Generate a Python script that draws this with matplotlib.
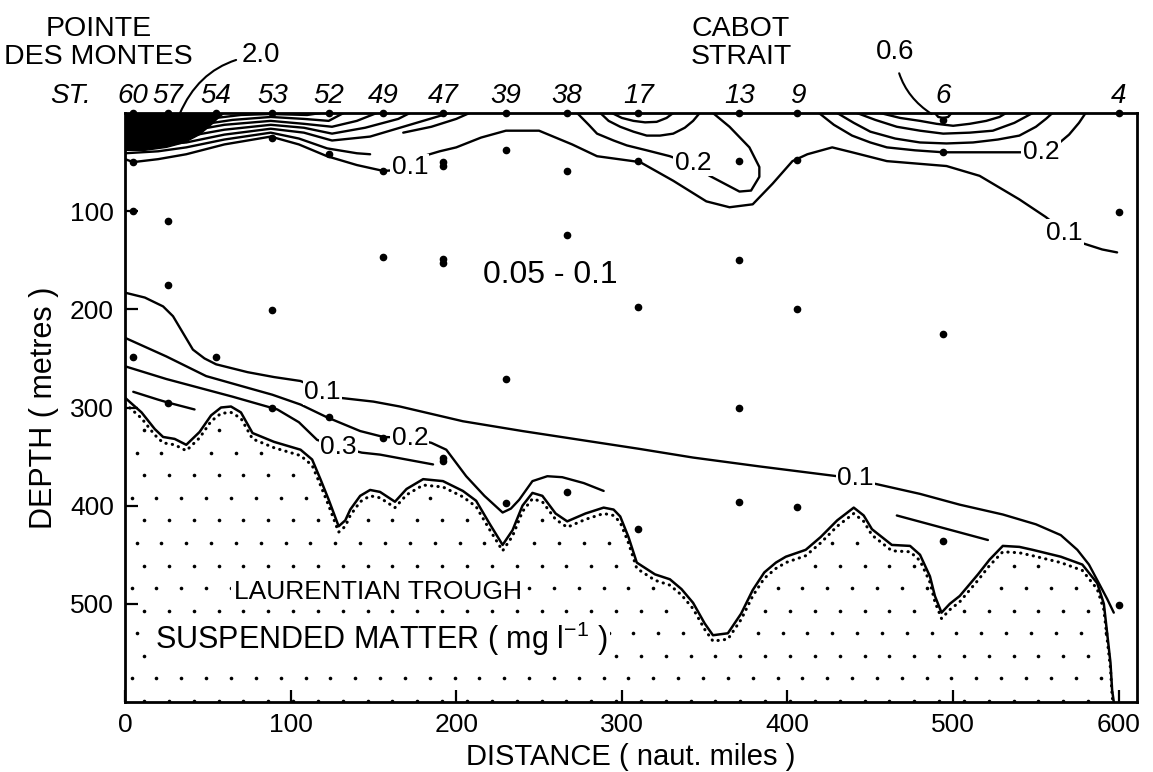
import numpy as np
import matplotlib.pyplot as plt

plt.rcParams['font.family'] = ['Liberation Sans', 'DejaVu Sans']
plt.rcParams['mathtext.fontset'] = 'custom'
plt.rcParams['mathtext.rm'] = 'Liberation Sans'

# Stations along the section (distance in naut. miles) and sample depths (m)
station_names = ['60', '57', '54', '53', '52', '49', '47', '39', '38', '17', '13', '9', '6', '4']
station_x = [5, 26, 55, 89, 123, 156, 192, 230, 267, 310, 371, 406, 494, 600]
sample_depths = [
    [0, 50, 100, 249],
    [0, 110, 175, 295],
    [0, 249],
    [0, 25, 201, 300],
    [0, 42, 310],
    [0, 59, 147, 331],
    [0, 50, 54, 149, 153, 351, 355],
    [0, 38, 271, 397],
    [0, 59, 124, 386],
    [0, 49, 198, 424],
    [0, 49, 150, 301, 396],
    [0, 48, 200, 401],
    [7, 40, 225, 436],
    [0, 101, 501],
]

# Sea floor profile (distance, depth)
floor_x = [0, 10, 18, 23, 30, 37, 45, 52, 58, 64, 70, 77, 90, 106, 113, 118, 123, 129,
           133, 136, 142, 148, 154, 163, 170, 180, 192, 204, 212, 220, 228, 234, 240,
           246, 252, 260, 267, 278, 289, 295, 299, 304, 309, 320, 329, 336, 343, 350,
           355, 364, 372, 379, 386, 393, 399, 411, 420, 430, 440, 446, 451, 463, 474,
           480, 486, 489, 493, 498, 504, 515, 522, 530, 540, 548, 565, 578, 587, 591,
           593, 595, 596, 597]
floor_depth = [290, 305, 322, 330, 332, 338, 325, 308, 300, 299, 305, 326, 335, 343,
               353, 373, 394, 421, 415, 404, 390, 384, 386, 396, 383, 373, 375, 385,
               395, 418, 440, 425, 400, 387, 390, 408, 416, 408, 402, 404, 411, 432,
               458, 470, 475, 485, 499, 520, 532, 530, 510, 486, 468, 458, 452, 445,
               432, 415, 402, 410, 424, 440, 441, 450, 472, 492, 509, 500, 492, 470,
               455, 441, 442, 445, 452, 460, 479, 500, 530, 560, 588, 600]

# Isolines of suspended matter (distance, depth)
iso_01_upper = [(0, 47), (5, 50), (20, 47), (37, 42), (60, 32), (88, 24), (105, 32), (122, 44),
                (140, 53), (156, 59), (165, 58), (180, 44), (190, 39), (200, 35), (215, 25),
                (230, 18), (250, 18), (270, 32), (285, 44), (311, 50), (331, 69), (351, 90),
                (365, 96), (379, 93), (391, 72), (403, 49), (412, 42), (427, 35), (439, 40),
                (460, 49), (496, 54), (516, 64), (540, 88), (556, 106), (567, 121),
                (577, 132), (590, 139), (599, 142)]
iso_left_1 = [(0, 41), (20, 39), (37, 35), (60, 27), (88, 20), (105, 26), (122, 36), (140, 41), (148, 42)]
iso_left_2 = [(0, 35), (37, 30), (60, 22), (88, 16), (108, 20), (125, 28), (148, 24), (170, 13), (190, 3), (195, 0)]
iso_left_3 = [(0, 29), (37, 24), (60, 17), (88, 12), (108, 15), (125, 21), (145, 15), (165, 6), (172, 0)]
iso_left_4 = [(0, 23), (40, 18), (60, 12), (88, 8), (108, 11), (125, 14), (140, 8), (152, 0)]
iso_left_5 = [(0, 17), (45, 12), (65, 7), (88, 4), (108, 6), (123, 8), (132, 0)]
iso_left_6 = [(0, 11), (50, 6), (70, 2), (88, 1), (110, 2), (118, 0)]
iso_left_7 = [(168, 20), (185, 14), (200, 6), (208, 0)]
iso_core = [(0, 0), (0, 38), (12, 38), (25, 35), (36, 30), (45, 22), (52, 12), (57, 4), (60, 0)]

iso_02_mid = [(273, 0), (280, 12), (285, 21), (295, 28), (303, 33), (315, 38), (329, 44), (343, 53),
              (353, 64), (362, 72), (371, 80), (378, 79), (383, 65), (383, 55), (377, 35),
              (365, 14), (355, 0)]
iso_03_mid = [(287, 0), (292, 8), (299, 14), (307, 19), (315, 23), (323, 23), (331, 21), (338, 15),
              (343, 8), (347, 0)]
iso_04_mid = [(294, 0), (300, 5), (307, 8), (314, 9.5), (321, 9), (327, 5), (331, 0)]

iso_02_right = [(419, 0), (428, 12), (439, 23), (450, 30), (460, 35), (477, 38), (494, 40),
                (520, 40), (553, 40)]
iso_02_right_b = [(563, 32), (570, 22), (576, 10), (580, 0)]
iso_03_right = [(430, 0), (440, 10), (450, 19), (465, 26), (480, 30), (496, 31), (512, 30),
                (527, 27), (540, 23), (550, 14), (556, 6), (560, 0)]
iso_04_right = [(442, 0), (453, 7), (466, 14), (480, 18), (494, 21), (510, 20), (524, 18),
                (537, 10), (548, 0)]
iso_05_right = [(456, 0), (468, 5), (480, 8), (490, 11), (500, 13), (510, 11), (520, 8),
                (528, 4), (532, 0)]
iso_06_right = [(489, 0), (491, 4), (494, 5), (497, 4), (499, 0)]

iso_01_deep = [(0, 183), (12, 188), (23, 197), (29, 207), (35, 224), (41, 241), (48, 250),
               (55, 256), (74, 264), (90, 269), (106, 273), (119, 283), (129, 290), (150, 294),
               (166, 299), (204, 314), (240, 324), (275, 333), (310, 342), (343, 351),
               (383, 360), (430, 370), (451, 377), (480, 388), (504, 399), (530, 409),
               (550, 419), (565, 430), (575, 445), (582, 460), (588, 479), (593, 495), (597, 509)]
iso_02_deep = [(0, 229), (25, 248), (49, 268), (70, 278), (89, 287), (106, 297), (122, 310),
               (142, 324), (156, 330), (172, 331), (185, 336), (194, 343), (206, 370),
               (217, 390), (228, 407), (233, 403), (238, 394), (246, 375), (255, 370),
               (264, 371), (277, 377), (289, 385)]
iso_03_deep = [(0, 258), (25, 271), (45, 280), (65, 289), (92, 302), (105, 315), (116, 333),
               (129, 340), (143, 346), (154, 348), (170, 353), (186, 358)]
iso_04_deep = [(5, 284), (20, 292), (26, 295), (42, 302)]
iso_right_deep = [(466, 410), (521, 435)]

iso_lines = [iso_01_upper, iso_left_1, iso_left_2, iso_left_3, iso_left_4, iso_left_5,
             iso_left_6, iso_left_7, iso_02_mid, iso_03_mid, iso_04_mid, iso_02_right,
             iso_02_right_b, iso_03_right, iso_04_right, iso_05_right, iso_06_right,
             iso_01_deep, iso_02_deep, iso_03_deep, iso_04_deep, iso_right_deep]

# Isoline labels: text, distance, depth
iso_label_text = ['0.1', '0.2', '0.2', '0.1', '0.1', '0.2', '0.3', '0.1']
iso_label_x = [172, 343, 553, 567, 119, 172, 129, 441]
iso_label_depth = [55, 51, 40, 122, 284, 331, 340, 372]

fig = plt.figure(figsize=(11.53, 7.72), dpi=100)
ax = fig.add_axes([0.1084, 0.0907, 0.8777, 0.7629])
ax.set_xlim(0, 611)
ax.set_ylim(600, 0)

# stipple below the sea floor: staggered grid clipped by the bottom profile
gx, gy = np.meshgrid(np.arange(4, 611, 15.0), np.arange(300, 600, 23.0))
gx[1::2] += 7.5
gx[2::4] += 3.0
gx, gy = gx.ravel(), gy.ravel()
below = gy > np.interp(gx, floor_x, floor_depth) + 14
ax.plot(gx[below], gy[below], 'o', color='black', ms=2.6, mew=0, zorder=1)

ax.plot(floor_x, np.array(floor_depth) + 6, color='black', lw=2.2,
        ls=(0, (0.1, 2.0)), dash_capstyle='round', zorder=2)
ax.plot(floor_x, floor_depth, color='black', lw=1.8, zorder=3)

# high concentration core near Pointe des Montes
core = np.array(iso_core)
ax.fill(core[:, 0], core[:, 1], color='black', zorder=3)

for line in iso_lines:
    a = np.array(line)
    ax.plot(a[:, 0], a[:, 1], color='black', lw=1.7, solid_capstyle='round',
            solid_joinstyle='round', zorder=3)

for txt, x, d in zip(iso_label_text, iso_label_x, iso_label_depth):
    ax.text(x, d, txt, fontsize=19, ha='center', va='center', zorder=5,
            bbox=dict(facecolor='white', edgecolor='none', pad=1.0))

# sample points
for x, depths in zip(station_x, sample_depths):
    ax.plot([x] * len(depths), depths, 'o', color='black', ms=4.5, zorder=4, clip_on=False)

# station numbers along the top
for name, x in zip(station_names, station_x):
    ax.text(x, -17, name, fontsize=20, fontstyle='italic', ha='center', va='center', clip_on=False)
ax.text(-33, -17, 'ST.', fontsize=20, fontstyle='italic', ha='center', va='center', clip_on=False)

ax.text(-16, -71, 'POINTE\nDES MONTES', fontsize=20.5, ha='center', va='center',
        linespacing=1.1, clip_on=False)
ax.text(372, -71, 'CABOT\nSTRAIT', fontsize=20.5, ha='center', va='center',
        linespacing=1.1, clip_on=False)

ax.annotate('2.0', xy=(33, 1), xytext=(82, -59), fontsize=20, ha='center', va='center',
            annotation_clip=False,
            arrowprops=dict(arrowstyle='-', lw=1.5, shrinkA=2, shrinkB=0,
                            connectionstyle='arc3,rad=0.3'))
ax.annotate('0.6', xy=(487, 1), xytext=(465, -62), fontsize=20, ha='center', va='center',
            annotation_clip=False,
            arrowprops=dict(arrowstyle='-', lw=1.5, shrinkA=4, shrinkB=0,
                            connectionstyle='arc3,rad=0.25'))

ax.text(257, 165, '0.05 - 0.1', fontsize=23, ha='center', va='center')
ax.text(66, 488, 'LAURENTIAN TROUGH', fontsize=19, ha='left', va='center',
        zorder=5, bbox=dict(facecolor='white', edgecolor='none', pad=2))
ax.text(18, 536, 'SUSPENDED MATTER ( mg l$^{-1}$ )', fontsize=22, ha='left',
        va='center', zorder=5, bbox=dict(facecolor='white', edgecolor='none', pad=2))

ax.set_xticks([0, 100, 200, 300, 400, 500, 600])
ax.set_yticks([100, 200, 300, 400, 500])
ax.tick_params(direction='in', length=9, width=1.6, labelsize=19, pad=8)
for s in ax.spines.values():
    s.set_linewidth(2)

ax.set_xlabel('DISTANCE ( naut. miles )', fontsize=21, labelpad=4)
ax.set_ylabel('DEPTH ( metres )', fontsize=22, labelpad=8)

fig.savefig('out.png', dpi=100)
